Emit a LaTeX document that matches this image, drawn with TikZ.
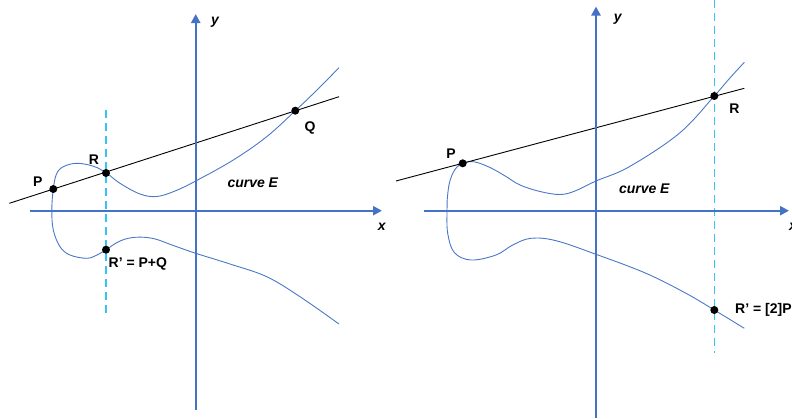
\documentclass[tikz,border=0pt]{standalone}
\usepackage{fontspec}
\setmainfont{Liberation Sans}
\usetikzlibrary{arrows.meta}
\definecolor{axisblue}{HTML}{4472C4}
\definecolor{curveblue}{HTML}{4A78C8}
\definecolor{dashcyan}{HTML}{33C6F4}
\tikzset{
  axis/.style={draw=axisblue, line width=2.4pt, -{Triangle[length=9pt,width=9pt]}},
  ecurve/.style={draw=curveblue, line width=0.9pt},
  secant/.style={draw=black, line width=0.9pt},
  vdash/.style={draw=dashcyan, line width=1.3pt, dash pattern=on 8pt off 5pt},
  dot/.style={circle, fill=black, inner sep=0pt, minimum size=8pt},
  lbl/.style={font=\fontsize{14}{16}\selectfont\bfseries, inner sep=0pt},
  ilbl/.style={font=\fontsize{14}{16}\selectfont\bfseries\itshape, inner sep=0pt}
}
\begin{document}
\begin{tikzpicture}[x=1pt,y=-1pt]
\useasboundingbox (0,0) rectangle (792,418);
% ---------------- left panel ----------------
\coordinate (LxS) at (30,210.7);
\coordinate (LxE) at (382,210.7);
\coordinate (LyS) at (195.7,410);
\coordinate (LyE) at (195.7,14);
\coordinate (LlA) at (9.3,203.3);
\coordinate (LlB) at (339,96.7);
\coordinate (LdA) at (106,110);
\coordinate (LdB) at (106,313);
\draw[vdash] (LdA) -- (LdB);
\draw[ecurve] plot[smooth, tension=0.6] coordinates {
 (339,67.7) (317,90) (295.3,110.7) (266.7,136.7) (233.3,160) (195.7,181)
 (175,191) (156.7,196.5) (140,194) (120,183.3) (106,172.7) (93.3,166.2)
 (76.7,163.3) (63.3,166.7) (56.5,174) (53.3,189) (51.8,210) (53.3,230)
 (60,246.7) (70,255) (86.7,258.3) (97,255) (106,249.7) (120,241)
 (135,237.3) (153.3,238.5) (173.3,245.5) (195.7,253.3) (230,264)
 (266.7,276.7) (300,296.7) (339,324)};
\draw[secant] (LlA) -- (LlB);
\draw[axis] (LxS) -- (LxE);
\draw[axis] (LyS) -- (LyE);
\node[dot] (LP) at (53.3,189) {};
\node[dot] (LR) at (106,173) {};
\node[dot] (LQ) at (295.3,110.7) {};
\node[dot] (LRp) at (106,249.7) {};
\node[lbl] (LPl) at (37.8,181.7) {P};
\node[lbl] (LRl) at (94,159.3) {R};
\node[lbl] (LQl) at (310,127.7) {Q};
\node[lbl, anchor=west] (LRpl) at (108.5,263.5) {R’ = P+Q};
\node[ilbl] (Lce) at (252.8,182.7) {curve E};
\node[ilbl] (Lxl) at (381.7,226.7) {x};
\node[ilbl] (Lyl) at (215,22) {y};
% ---------------- right panel ----------------
\coordinate (RxS) at (424.3,210.7);
\coordinate (RxE) at (789,210.7);
\coordinate (RyS) at (596,418);
\coordinate (RyE) at (596,6.5);
\coordinate (RlA) at (396,181);
\coordinate (RlB) at (744.3,88.3);
\coordinate (RdA) at (714.3,0);
\coordinate (RdB) at (714.3,353.3);
\draw[vdash] (RdA) -- (RdB);
\draw[ecurve] plot[smooth, tension=0.6] coordinates {
 (744.3,62.3) (729,79) (714.3,96) (679.3,133.3) (629.3,166.7) (596,181)
 (575,191) (560,194.5) (540,191.5) (520,185) (506,176.5) (490,167.5)
 (474,161.8) (462.7,163.3) (455,169.5) (449.5,182.5) (447.2,200) (447,210)
 (447.7,233.3) (454.3,252.5) (471,260) (496,255) (512.7,245)
 (531,238.3) (556,240.7) (596,254.3) (646,273.3) (686,293.3)
 (714.3,310) (744.3,328.3)};
\draw[secant] (RlA) -- (RlB);
\draw[axis] (RxS) -- (RxE);
\draw[axis] (RyS) -- (RyE);
\node[dot] (RP) at (462.7,163.3) {};
\node[dot] (RR) at (714.3,96) {};
\node[dot] (RRp) at (714.3,310) {};
\node[lbl] (RPl) at (451,153.3) {P};
\node[lbl] (RRl) at (734.3,109) {R};
\node[lbl, anchor=west] (RRpl) at (735,310) {R’ = [2]P};
\node[ilbl] (Rce) at (644.3,188.3) {curve E};
\node[ilbl] (Rxl) at (793,227) {x};
\node[ilbl] (Ryl) at (617.7,19.3) {y};
\end{tikzpicture}
\end{document}
